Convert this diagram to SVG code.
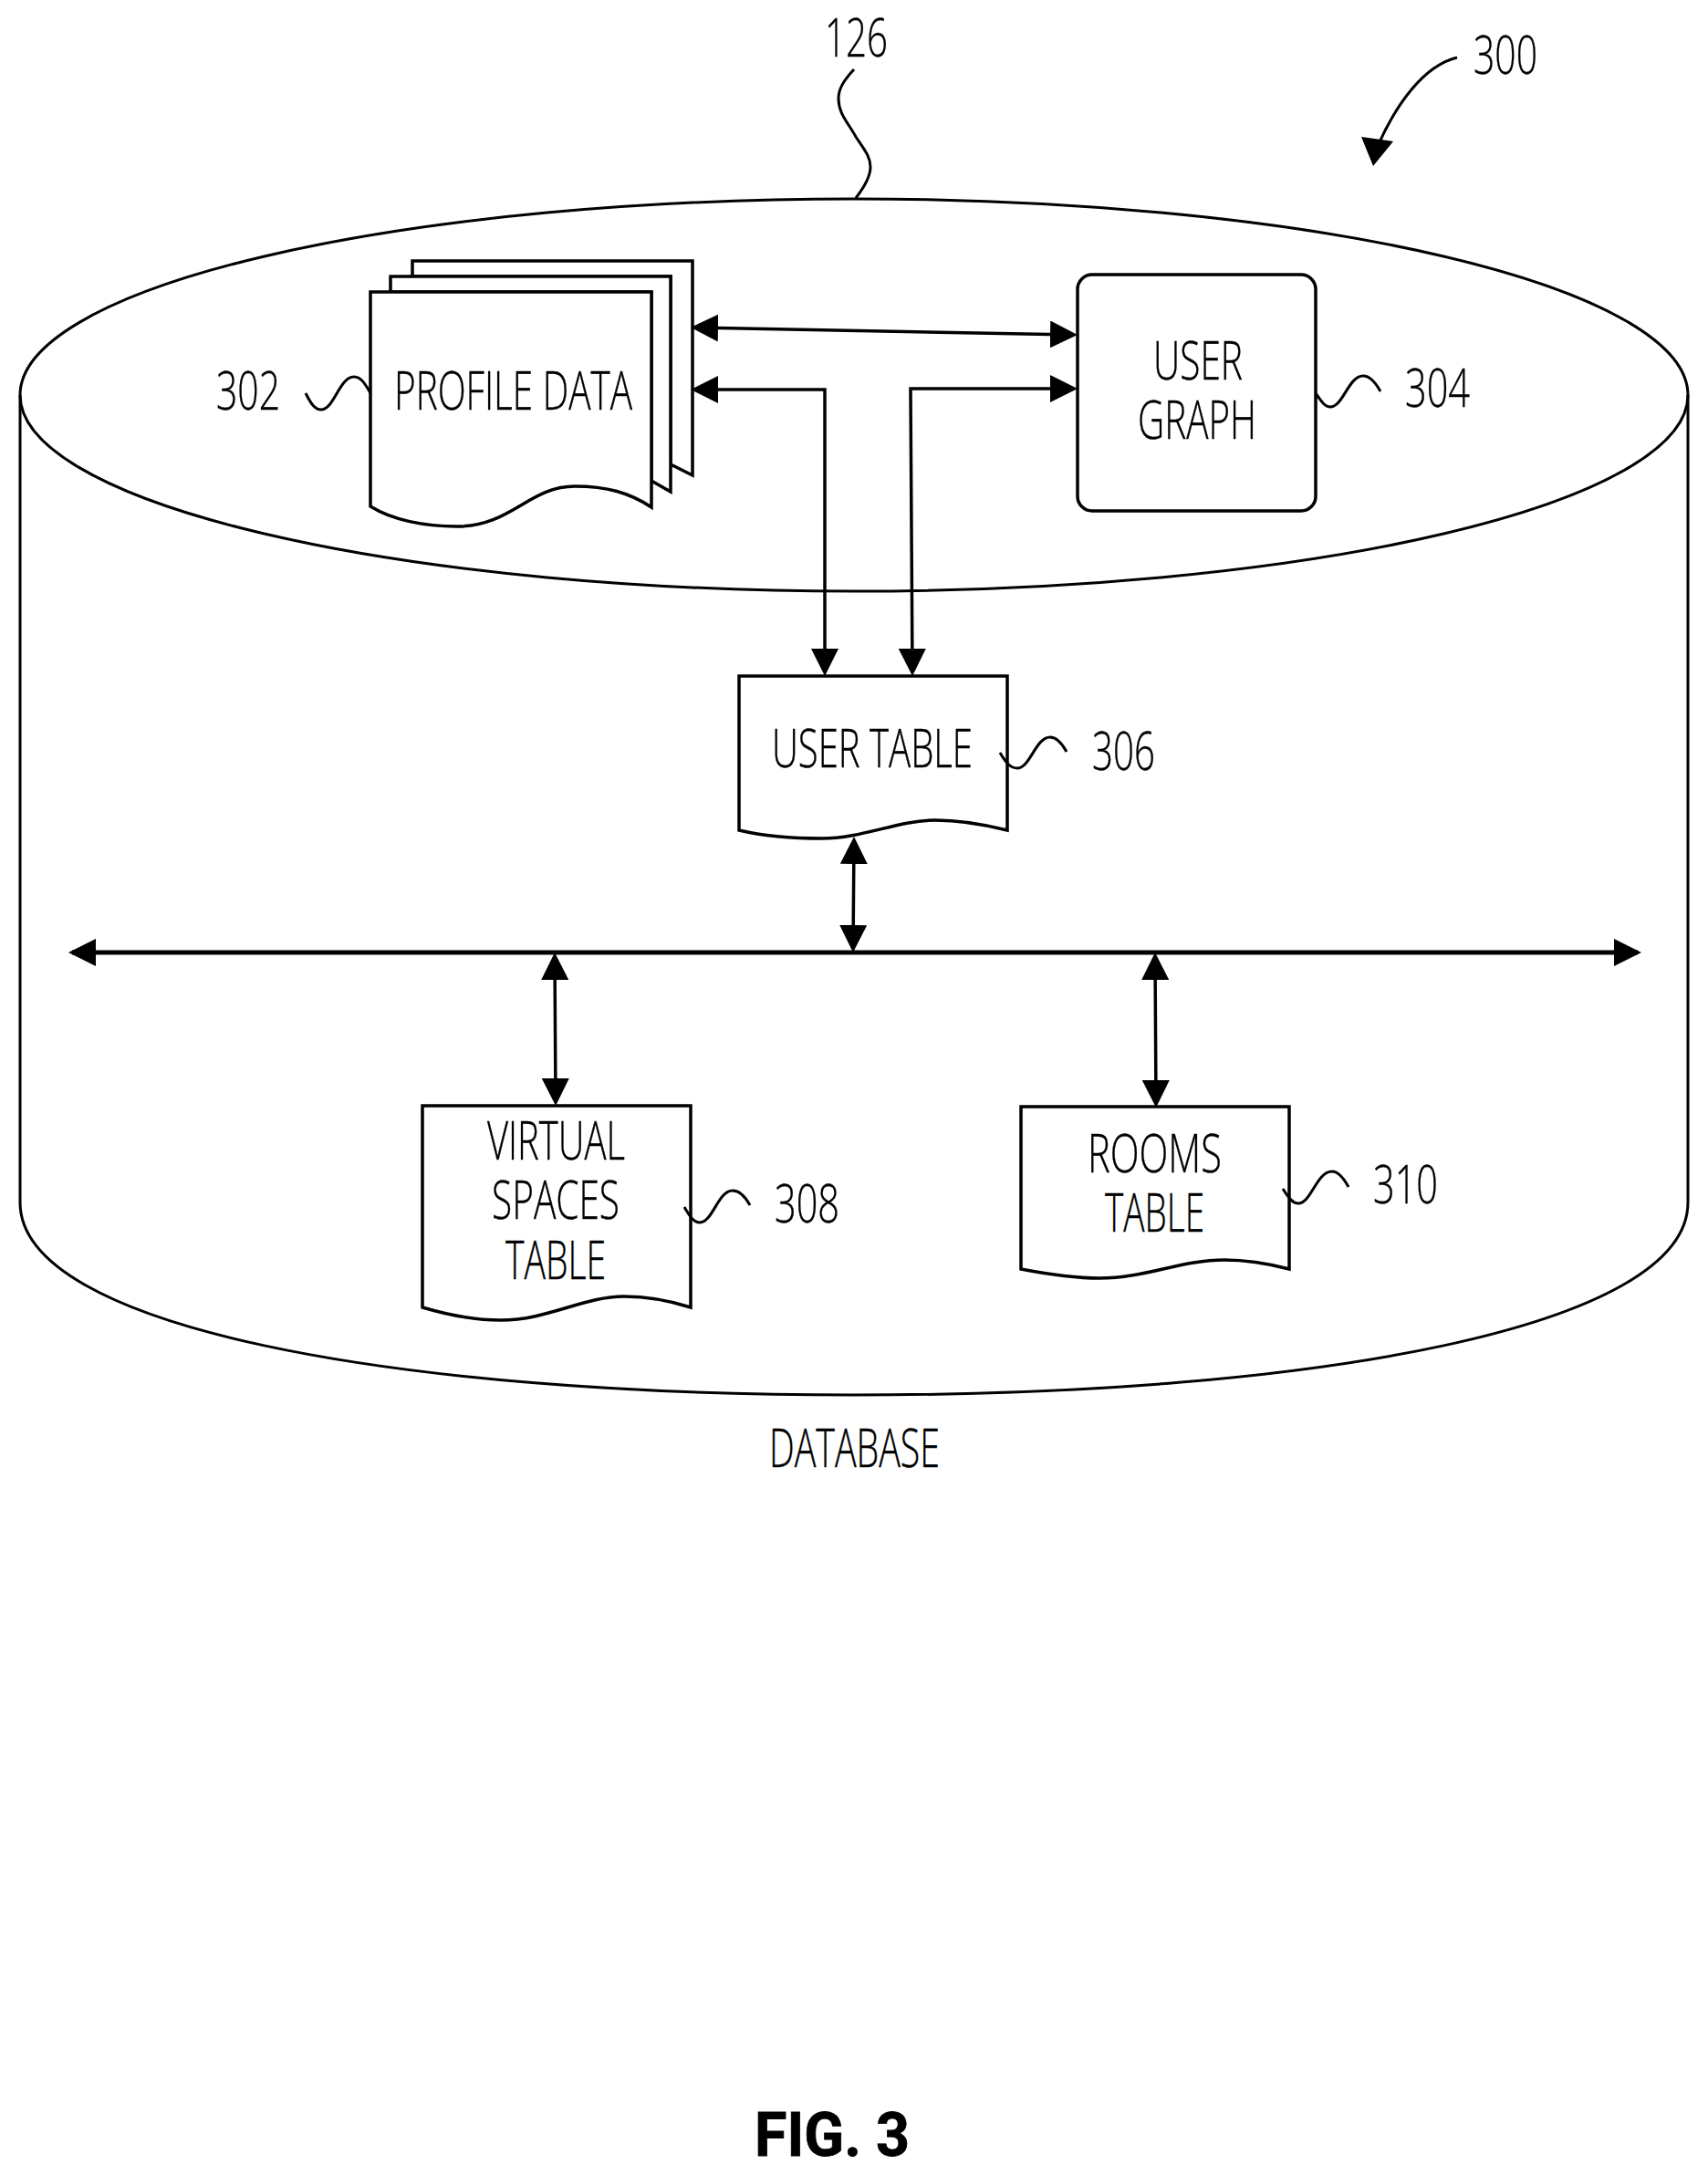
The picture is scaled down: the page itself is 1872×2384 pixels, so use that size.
<svg xmlns="http://www.w3.org/2000/svg" width="1872" height="2384" viewBox="0 0 1872 2384">
<style>
.s{fill:none;stroke:#000;stroke-width:3}
.n{fill:#fff;stroke:#000;stroke-width:3.5}
.c{fill:none;stroke:#000;stroke-width:3.5;marker-start:url(#a);marker-end:url(#a)}
text{font-family:"Open Sans","Liberation Sans",sans-serif;font-weight:300;font-size:58px;fill:#000;stroke:#000;stroke-width:.4}
text.f{font-family:Roboto,"Liberation Sans",Arial,sans-serif;font-weight:700;font-size:67px;stroke-width:.8}
</style>
<defs>
<marker id="a" markerUnits="userSpaceOnUse" markerWidth="30" markerHeight="30" refX="26" refY="15" orient="auto-start-reverse"><path d="M0 0L30 15L0 30Z" fill="#000"/></marker>
</defs>
<rect width="1872" height="2384" fill="#fff"/>
<g id="database">
<ellipse class="s" cx="936" cy="433" rx="914" ry="215"/>
<path class="s" d="M22 433V1318C22 1455 431 1529 936 1529S1850 1455 1850 1318V433"/>
<text x="843" y="1608" textLength="187" lengthAdjust="spacingAndGlyphs">DATABASE</text>
</g>
<g id="ref-126">
<text x="904" y="62" textLength="69" lengthAdjust="spacingAndGlyphs">126</text>
<path class="s" d="M936 76C925 88 919 97 919 108C919 125 930 135 938 150C948 165 954 172 954 183C954 195 945 208 938 217"/>
</g>
<g id="ref-300">
<text x="1615" y="81" textLength="70" lengthAdjust="spacingAndGlyphs">300</text>
<path class="s" d="M1597 63C1560 72 1530 115 1510 160"/>
<path d="M1492 150L1527 155L1505 182Z" fill="#000"/>
</g>
<g id="profile-data">
<path class="n" d="M452 303V286H759V521L735 509V303Z"/>
<path class="n" d="M428 320V303H735V539L714 527V320Z"/>
<path class="n" d="M406 320H714V556C690 540 665 533 630 533C580 533 560 577 501 577C465 577 430 570 406 555Z"/>
<text x="432" y="449" textLength="261" lengthAdjust="spacingAndGlyphs">PROFILE DATA</text>
<text x="237" y="449" textLength="70" lengthAdjust="spacingAndGlyphs">302</text>
<path class="s" d="M335 431C342 445 346 449 352 449C366 449 372 413 388 413C396 413 401 422 406 431"/>
</g>
<g id="user-graph">
<rect class="n" x="1181" y="301" width="261" height="259" rx="16" ry="16"/>
<text x="1264" y="416" textLength="98" lengthAdjust="spacingAndGlyphs">USER</text>
<text x="1247" y="481" textLength="130" lengthAdjust="spacingAndGlyphs">GRAPH</text>
<text x="1540" y="446" textLength="71" lengthAdjust="spacingAndGlyphs">304</text>
<path class="s" d="M1442 431C1449 441 1452 446 1458 446C1472 446 1478 412 1494 412C1502 412 1508 420 1513 429"/>
</g>
<g id="user-table">
<path class="n" d="M810 741H1104V910C1080 904 1050 899 1025 899C985 899 945 919 901 919C870 919 835 916 810 910Z"/>
<text x="846" y="841" textLength="220" lengthAdjust="spacingAndGlyphs">USER TABLE</text>
<text x="1197" y="844" textLength="69" lengthAdjust="spacingAndGlyphs">306</text>
<path class="s" d="M1096 825C1103 837 1108 842 1115 842C1129 842 1135 808 1151 808C1158 808 1164 815 1169 824"/>
</g>
<g id="virtual-spaces-table">
<path class="n" d="M463 1212H757V1433C735 1426 710 1421 684 1421C640 1421 600 1447 549 1447C520 1447 490 1441 463 1433Z"/>
<text x="534" y="1271" textLength="151" lengthAdjust="spacingAndGlyphs">VIRTUAL</text>
<text x="539" y="1336" textLength="140" lengthAdjust="spacingAndGlyphs">SPACES</text>
<text x="554" y="1402" textLength="110" lengthAdjust="spacingAndGlyphs">TABLE</text>
<text x="849" y="1340" textLength="71" lengthAdjust="spacingAndGlyphs">308</text>
<path class="s" d="M750 1323C757 1335 761 1340 767 1340C781 1340 787 1305 803 1305C811 1305 817 1312 822 1321"/>
</g>
<g id="rooms-table">
<path class="n" d="M1119 1213H1413V1391C1390 1385 1365 1381 1342 1381C1295 1381 1255 1401 1205 1401C1175 1401 1145 1396 1119 1391Z"/>
<text x="1192" y="1285" textLength="147" lengthAdjust="spacingAndGlyphs">ROOMS</text>
<text x="1211" y="1350" textLength="109" lengthAdjust="spacingAndGlyphs">TABLE</text>
<text x="1505" y="1319" textLength="71" lengthAdjust="spacingAndGlyphs">310</text>
<path class="s" d="M1406 1303C1413 1314 1417 1319 1423 1319C1437 1319 1443 1284 1460 1284C1467 1284 1473 1292 1478 1301"/>
</g>
<g id="connectors">
<path class="c" d="M761 359L1177 367"/>
<path class="c" d="M761 427H904V737"/>
<path class="c" d="M1177 426H998L1000 737"/>
<path class="c" d="M936 921L935 1040"/>
<path class="c" d="M79 1044H1795" style="stroke-width:5"/>
<path class="c" d="M608 1048L609 1208"/>
<path class="c" d="M1266 1048L1267 1210"/>
</g>
<text class="f" x="827" y="2363" textLength="170" lengthAdjust="spacingAndGlyphs">FIG. 3</text>
</svg>
